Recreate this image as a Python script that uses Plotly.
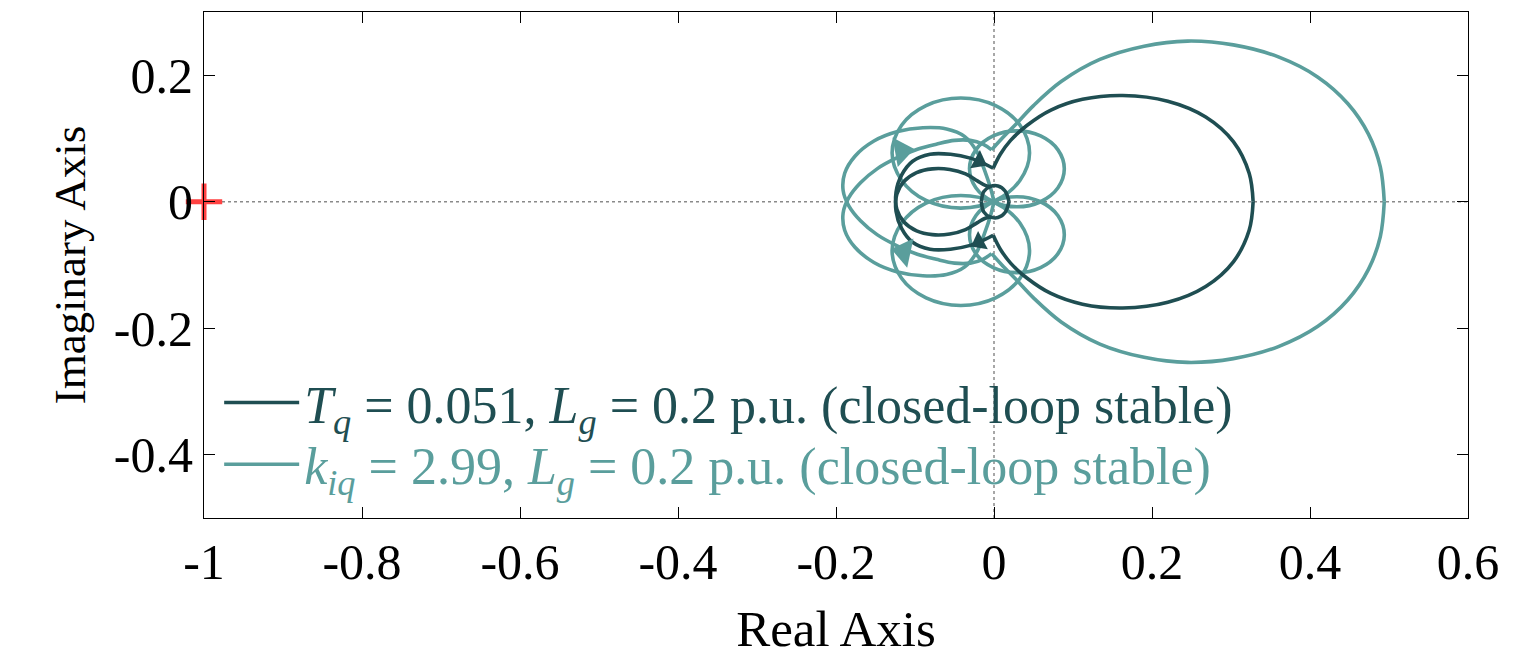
import plotly.graph_objects as go

# ---------------- data ----------------
# Positive-frequency branch of each Nyquist curve, as separate path pieces.
# The negative-frequency branch is the complex conjugate (mirror about Re axis).

# Dark curve: T_q = 0.051
DARK_LOOP_X = [0.328, 0.323, 0.303, 0.268, 0.220, 0.163, 0.112, 0.072, 0.042, 0.021, 0.008, -0.001]
DARK_LOOP_Y = [0.000, 0.045, 0.095, 0.134, 0.159, 0.168, 0.162, 0.145, 0.121, 0.097, 0.075, 0.053]
DARK_LEFT_X = [-0.001, -0.012, -0.030, -0.055, -0.081, -0.103, -0.117, -0.124, -0.123, -0.114,
               -0.098, -0.078, -0.056, -0.036, -0.021, -0.011, -0.004]
DARK_LEFT_Y = [0.053, 0.060, 0.069, 0.075, 0.075, 0.064, 0.042, 0.015, -0.012, -0.032,
               -0.046, -0.052, -0.051, -0.044, -0.033, -0.026, -0.024]
DARK_RING_X = [-0.016, -0.013, -0.005, 0.005, 0.014, 0.019]
DARK_RING_Y = [0.000, 0.016, 0.024, 0.025, 0.017, 0.000]

# Light curve: k_iq = 2.99
LIGHT_LOOP_X = [0.494, 0.489, 0.474, 0.448, 0.410, 0.360, 0.303, 0.245, 0.190, 0.134, 0.085, 0.050, 0.028, 0.010, -0.003]
LIGHT_LOOP_Y = [0.000, 0.055, 0.107, 0.155, 0.197, 0.229, 0.248, 0.254, 0.246, 0.225, 0.190, 0.152, 0.123, 0.100, 0.082]
LIGHT_LEFT_X = [-0.003, -0.014, -0.030, -0.050, -0.073, -0.097, -0.122, -0.148, -0.169, -0.184, -0.191,
                -0.189, -0.176, -0.152, -0.122, -0.090, -0.060, -0.037, -0.022, -0.012, -0.004, 0.000]
LIGHT_LEFT_Y = [0.082, 0.091, 0.097, 0.097, 0.091, 0.083, 0.070, 0.052, 0.030, 0.006, -0.018,
                -0.045, -0.072, -0.096, -0.111, -0.117, -0.115, -0.103, -0.080, -0.050, -0.020, 0.000]
LIGHT_TOP_X = [0.045, 0.033, 0.002, -0.042, -0.086, -0.117, -0.129, -0.117, -0.086, -0.042, 0.002, 0.033, 0.045]
LIGHT_TOP_Y = [0.077, 0.121, 0.152, 0.164, 0.152, 0.121, 0.077, 0.034, 0.002, -0.010, 0.002, 0.034, 0.077]
LIGHT_RIGHT_X = [0.089, 0.081, 0.059, 0.029, -0.001, -0.023, -0.031, -0.023, -0.001, 0.029, 0.059, 0.081, 0.089]
LIGHT_RIGHT_Y = [0.052, 0.082, 0.104, 0.112, 0.104, 0.082, 0.052, 0.022, 0.000, -0.008, 0.000, 0.022, 0.052]

# Direction arrows (upper, lower)
DARK_ARROW_X = [-0.019, -0.019]
DARK_ARROW_Y = [0.064, -0.064]
DARK_ARROW_ANGLE = [28, -28]
LIGHT_ARROW_X = [-0.117, -0.114]
LIGHT_ARROW_Y = [0.080, -0.079]
LIGHT_ARROW_ANGLE = [-10, 12]
ARROW_SYMBOLS = ["triangle-right", "triangle-left"]

# Critical point
CRIT_X = [-1.0]
CRIT_Y = [0.0]

X_TICKS = [-1, -0.8, -0.6, -0.4, -0.2, 0, 0.2, 0.4, 0.6]
X_TICKTEXT = ["-1", "-0.8", "-0.6", "-0.4", "-0.2", "0", "0.2", "0.4", "0.6"]
Y_TICKS = [-0.4, -0.2, 0, 0.2]
Y_TICKTEXT = ["-0.4", "-0.2", "0", "0.2"]

DARK = "#1F4E52"
LIGHT = "#5A9E9C"
FONT = "Liberation Serif, Times New Roman, serif"


def build(pieces):
    xs, ys = [], []
    # positive-frequency branch
    for px, py in pieces:
        xs += list(px) + [None]
        ys += list(py) + [None]
    # negative-frequency branch (conjugate)
    for px, py in pieces:
        xs += list(px) + [None]
        ys += [-v for v in py] + [None]
    return xs, ys


dark_x, dark_y = build([(DARK_LOOP_X, DARK_LOOP_Y), (DARK_LEFT_X, DARK_LEFT_Y),
                        (DARK_RING_X, DARK_RING_Y)])
light_x, light_y = build([(LIGHT_LOOP_X, LIGHT_LOOP_Y), (LIGHT_LEFT_X, LIGHT_LEFT_Y),
                          (LIGHT_TOP_X, LIGHT_TOP_Y), (LIGHT_RIGHT_X, LIGHT_RIGHT_Y)])

fig = go.Figure()

fig.add_trace(go.Scatter(
    x=light_x, y=light_y, mode="lines", line=dict(color=LIGHT, width=3.6, shape="spline", smoothing=1.0),
    name='<span style="color:%s"><i>k</i><sub><i>iq</i></sub> = 2.99, <i>L</i><sub><i>g</i></sub> = 0.2 p.u. (closed-loop stable)</span>' % LIGHT,
    legend="legend2", hoverinfo="skip"))
fig.add_trace(go.Scatter(
    x=dark_x, y=dark_y, mode="lines", line=dict(color=DARK, width=3.6, shape="spline", smoothing=1.0),
    name='<span style="color:%s"><i>T</i><sub><i>q</i></sub> = 0.051, <i>L</i><sub><i>g</i></sub> = 0.2 p.u. (closed-loop stable)</span>' % DARK,
    legend="legend", hoverinfo="skip"))

fig.add_trace(go.Scatter(
    x=LIGHT_ARROW_X, y=LIGHT_ARROW_Y, mode="markers", showlegend=False, hoverinfo="skip",
    marker=dict(symbol=ARROW_SYMBOLS, angle=LIGHT_ARROW_ANGLE, size=26, color=LIGHT, line=dict(width=0))))
fig.add_trace(go.Scatter(
    x=DARK_ARROW_X, y=DARK_ARROW_Y, mode="markers", showlegend=False, hoverinfo="skip",
    marker=dict(symbol=ARROW_SYMBOLS, angle=DARK_ARROW_ANGLE, size=18, color=DARK, line=dict(width=0))))
fig.add_trace(go.Scatter(
    x=CRIT_X, y=CRIT_Y, mode="markers", showlegend=False, hoverinfo="skip", cliponaxis=False,
    marker=dict(symbol="cross-thin", size=26, line=dict(width=5, color="#FF4242"))))

# dotted zero lines
fig.add_shape(type="line", xref="x", yref="paper", x0=0, x1=0, y0=0, y1=1,
              line=dict(color="#8A8A8A", width=1.5, dash="dot"), layer="below")
fig.add_shape(type="line", xref="paper", yref="y", x0=0, x1=1, y0=0, y1=0,
              line=dict(color="#8A8A8A", width=1.5, dash="dot"), layer="below")

axis_common = dict(showgrid=False, zeroline=False, showline=True, linecolor="black", linewidth=1,
                   mirror="ticks", ticks="inside", ticklen=11, tickwidth=1, tickcolor="black",
                   tickfont=dict(family=FONT, size=50, color="black"))

fig.update_xaxes(range=[-1, 0.6], tickvals=X_TICKS, ticktext=X_TICKTEXT,
                 title=dict(text="Real Axis", font=dict(family=FONT, size=51, color="black"), standoff=21),
                 **axis_common)
fig.update_yaxes(range=[-0.5, 0.3], tickvals=Y_TICKS, ticktext=Y_TICKTEXT,
                 title=dict(text="Imaginary Axis", font=dict(family=FONT, size=45, color="black"), standoff=14),
                 **axis_common)

legend_common = dict(x=0.012, xanchor="left", yanchor="top", bgcolor="rgba(0,0,0,0)",
                     font=dict(family=FONT, size=52), itemwidth=75)

fig.update_layout(
    width=1525, height=650,
    margin=dict(l=196, r=65, t=4, b=140),
    plot_bgcolor="white", paper_bgcolor="white",
    font=dict(family=FONT, size=44, color="black"),
    legend=dict(y=0.308, **legend_common),
    legend2=dict(y=0.186, **legend_common),
)

fig.write_html("out.html")
